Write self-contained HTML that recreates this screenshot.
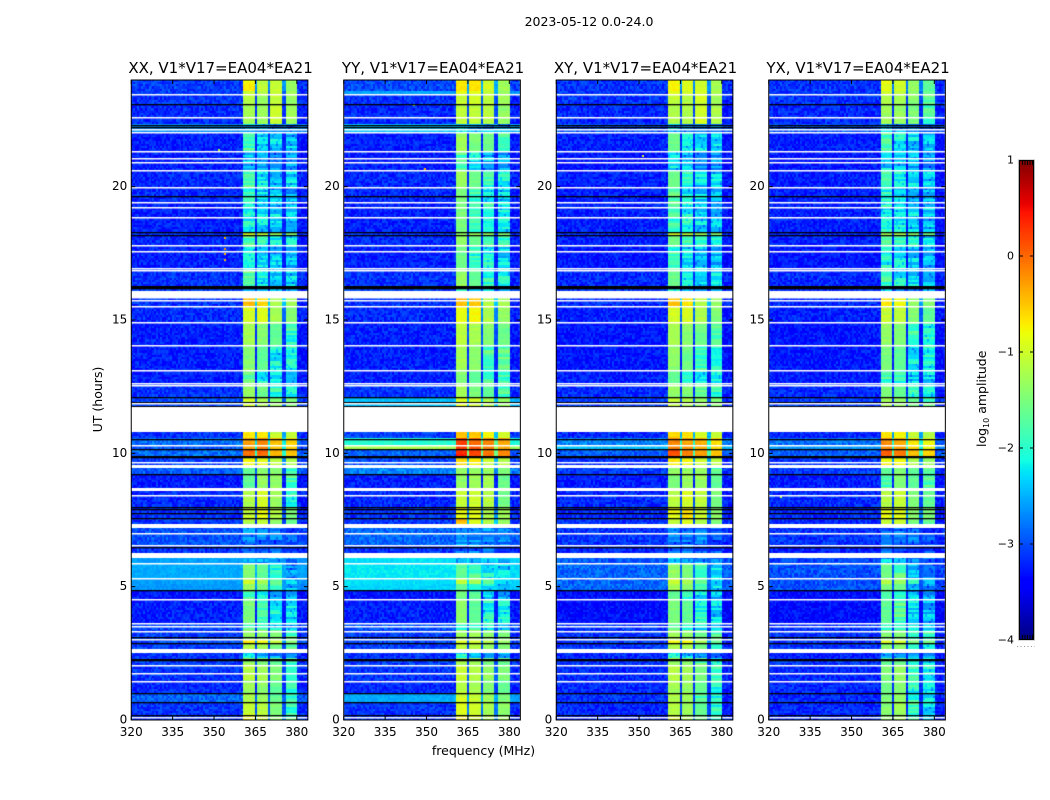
<!DOCTYPE html>
<html lang="en">
<head>
<meta charset="utf-8">
<title>2023-05-12 0.0-24.0</title>
<style>
html,body{margin:0;padding:0;background:#fff}
#figure{position:relative;width:1050px;height:800px;overflow:hidden;background:#fff}
canvas{position:absolute;display:block}
svg{position:absolute;left:0;top:0}
text{font-family:"DejaVu Sans","Liberation Sans",sans-serif;fill:#000}
</style>
</head>
<body>
<div id="figure">
<svg id="overlay" width="1050" height="800" viewBox="0 0 1050 800"></svg>
</div>
<script>
// ---- chart data (estimates) ----
const panelTitles = ['XX, V1*V17=EA04*EA21','YY, V1*V17=EA04*EA21','XY, V1*V17=EA04*EA21','YX, V1*V17=EA04*EA21'];
const freqTicks = [320,335,350,365,380];
const hourTicks = [0,5,10,15,20];
const colorTicks = [1,0,-1,-2,-3,-4];
const windowStart = [360.5,365.7,370.7,375.8];
const windowEnd = [364.8,369.9,374.9,380];
// hour at which each band of similar amplitude starts
const bandStart = [0,0.17,0.69,1,1.45,2.05,2.27,2.68,2.87,3.05,3.35,3.62,4.52,4.86,5.15,5.31,5.87,6.25,6.55,7.34,7.56,7.98,8.69,9.22,9.55,9.87,10.15,10.35,10.53,10.79,11.73,12.11,12.59,13.08,14.05,14.88,15.49,16.08,16.27,16.91,17.77,18.19,18.3,19.39,20,20.6,21.3,22.02,22.33,23.1,23.47,23.62];
// log10 amplitude per band: [background, window 1, window 2, window 3, window 4]
const levelsXX = [[-3,-.8,-1.05,-1.4,-1.7],[-3,-1.05,-1.15,-1.5,-1.75],[-2.75,-1.2,-1.3,-1.6,-1.8],[-3.05,-1.3,-1.4,-1.6,-1.8],[-3,-1.15,-1.25,-1.45,-1.7],[-2.95,-1.35,-1.5,-1.6,-1.75],[-3,-2,-2.1,-2.25,-2.4],[-2.95,-1.2,-1.25,-1.5,-1.65],[-2.9,-.7,-.75,-1.1,-1.5],[-2.95,-1.35,-1.4,-1.5,-1.65],[-2.9,-1.7,-1.8,-1.9,-2.1],[-3.1,-1.5,-1.65,-1.9,-2],[-3.15,-1.7,-1.85,-2.1,-2.2],[-2.5,-1.3,-1.5,-1.75,-2.15],[-2.45,-1,-1.25,-1.6,-2.1],[-2.4,-1.45,-1.6,-1.8,-2.25],[-2.45,-2.1,-2.2,-2.25,-2.3],[-3,-2.45,-2.5,-2.5,-2.6],[-2.85,-2.35,-2.4,-2.4,-2.55],[-3,-1.2,-1.05,-1.35,-1.55],[-3,-1.1,-.85,-1.2,-1.5],[-3.05,-1.2,-.95,-1.3,-1.85],[-3.1,-1.6,-1.35,-1.35,-1.7],[-2.8,-1.6,-1.4,-1.4,-1.7],[-2.95,-.75,-.85,-1.1,-1.2],[-2.7,-.05,0,-.4,-.5],[-2.85,-.3,-.15,-.45,-.6],[-2.7,-.3,-.15,-.45,-.6],[-3,-.65,-.7,-1.05,-1.1],[-3,-3,-3,-3,-3],[-2.9,-1,-1.2,-1.4,-1.5],[-3,-1.35,-1.55,-1.8,-1.9],[-3.1,-1.65,-1.85,-1.9,-2],[-3.1,-1.45,-1.6,-1.9,-1.85],[-3.1,-1.25,-1.45,-1.6,-1.8],[-3.05,-.95,-.9,-1.25,-1.45],[-3,-.45,-.6,-1.2,-1.3],[-2.95,-2,-2.1,-2.1,-2.1],[-3,-1.65,-1.9,-2,-2],[-3.1,-1.85,-2,-2.1,-2.1],[-3.05,-1.7,-1.85,-1.95,-1.9],[-3,-1,-1.1,-1.3,-1.4],[-3.1,-1.9,-1.95,-2,-2.05],[-3.05,-1.75,-2,-2.1,-2.15],[-3.05,-1.7,-1.9,-2.05,-2],[-3.1,-2.05,-2.1,-2.2,-2.25],[-3.1,-1.7,-1.95,-2,-2.1],[-2.55,-2.15,-2.2,-2.3,-2.4],[-3.05,-1.25,-1.3,-1.05,-1.3],[-3,-1.15,-1.3,-1.05,-1.35],[-2.95,-1,-1.2,-1.05,-1.3],[-2.95,-.75,-1.1,-1.05,-1.3]];
const levelsYY = [[-3,-.75,-.95,-1.15,-1.3],[-3,-.9,-1,-1.25,-1.4],[-2.4,-.95,-1.05,-1.3,-1.45],[-3.05,-1.15,-1.25,-1.45,-1.6],[-3,-1,-1.15,-1.35,-1.5],[-2.95,-1.2,-1.3,-1.5,-1.6],[-3,-1.85,-2,-2.1,-2.2],[-2.95,-1.1,-1.15,-1.4,-1.5],[-2.9,-.95,-.95,-1.15,-1.3],[-2.95,-1.3,-1.3,-1.4,-1.5],[-2.85,-1.7,-1.75,-1.85,-1.95],[-3.1,-1.4,-1.6,-1.85,-1.9],[-3.15,-1.55,-1.75,-2,-2.1],[-2.2,-1.6,-1.7,-1.9,-2],[-2.15,-1.15,-1.3,-1.6,-1.85],[-2.1,-1.6,-1.7,-1.9,-2],[-2.15,-2.1,-2.15,-2.15,-2.2],[-3,-2.4,-2.4,-2.45,-2.55],[-2.75,-2.2,-2.3,-2.3,-2.4],[-3,-.45,-.9,-1.15,-1.35],[-3,-.8,-.9,-1.15,-1.3],[-3.05,-1.05,-1,-1.15,-1.55],[-3.1,-1.35,-1.3,-1.25,-1.55],[-2.6,-1.35,-1.35,-1.35,-1.5],[-2.9,-.6,-.7,-1,-1.15],[-2.75,.35,.15,-.1,-.2],[-1.1,.2,.05,-.15,-.3],[-1.9,.2,.05,-.15,-.3],[-2.95,-.55,-.55,-.8,-.95],[-3,-3,-3,-3,-3],[-2.3,-.85,-1,-1.2,-1.3],[-3,-1.25,-1.5,-1.6,-1.7],[-3.1,-1.45,-1.6,-1.75,-1.8],[-3.1,-1.25,-1.4,-1.7,-1.65],[-3.1,-1.1,-1.25,-1.45,-1.55],[-3.05,-.85,-.75,-1.2,-1.35],[-3,-.45,-.55,-1.15,-1.25],[-2.95,-1.85,-1.95,-2,-2],[-3,-1.35,-1.6,-1.8,-1.85],[-3.1,-1.55,-1.8,-1.9,-2],[-3.05,-1.35,-1.55,-1.65,-1.75],[-3,-1.3,-1.3,-1.4,-1.5],[-3.1,-1.5,-1.7,-1.8,-1.95],[-3.05,-1.5,-1.75,-1.9,-2],[-3.05,-1.3,-1.55,-1.8,-1.85],[-3.1,-1.7,-1.95,-2.1,-2.15],[-3.1,-1.3,-1.5,-1.55,-1.65],[-2.3,-2,-2.1,-2.15,-2.2],[-3.05,-1.1,-1.1,-1.15,-1.35],[-3,-1.05,-1,-1.1,-1.3],[-2.45,-.85,-.85,-1.05,-1.3],[-2.9,-.65,-.65,-1,-1.3]];
const levelsXY = [[-3.05,-.95,-1.2,-1.5,-1.8],[-3.05,-1.15,-1.3,-1.6,-1.8],[-3,-1.2,-1.3,-1.65,-1.85],[-3.05,-1.25,-1.35,-1.6,-1.8],[-3.05,-1.15,-1.25,-1.5,-1.75],[-3,-1.3,-1.45,-1.65,-1.85],[-3.05,-1.9,-2.05,-2.2,-2.3],[-3,-1.25,-1.25,-1.55,-1.7],[-2.95,-.75,-.8,-1.2,-1.6],[-3,-1.3,-1.35,-1.55,-1.7],[-3,-1.65,-1.75,-1.9,-2.05],[-3.2,-1.5,-1.6,-1.85,-2],[-3.2,-1.6,-1.75,-2,-2.1],[-2.75,-1.25,-1.4,-1.65,-2.05],[-2.75,-1,-1.25,-1.55,-2],[-2.75,-1.35,-1.5,-1.7,-2.05],[-2.8,-2,-2.15,-2.2,-2.3],[-3.05,-2.4,-2.45,-2.5,-2.6],[-3,-2.3,-2.4,-2.4,-2.55],[-3,-1.1,-.9,-1.15,-1.5],[-3.05,-.85,-.7,-1.05,-1.4],[-3.05,-1.15,-.95,-1.1,-1.5],[-3.1,-1.5,-1.3,-1.3,-1.6],[-2.95,-1.35,-1.35,-1.35,-1.65],[-3,-.7,-.8,-1,-1.1],[-2.8,.1,-.1,-.3,-.5],[-2.3,-.15,-.3,-.4,-.65],[-2.6,-.15,-.3,-.4,-.65],[-3.05,-.6,-.65,-.9,-1.05],[-3,-3,-3,-3,-3],[-2.95,-1.1,-1.2,-1.35,-1.45],[-3.05,-1.35,-1.45,-1.7,-1.75],[-3.1,-1.6,-1.75,-1.85,-1.9],[-3.15,-1.4,-1.55,-1.75,-1.8],[-3.15,-1.25,-1.4,-1.55,-1.7],[-3.1,-.95,-.95,-1.2,-1.45],[-3.05,-.5,-.65,-1.15,-1.35],[-3,-1.95,-2.05,-2.1,-2.1],[-3.05,-1.55,-1.85,-1.95,-2],[-3.15,-1.75,-1.95,-2.05,-2.1],[-3.1,-1.55,-1.75,-1.9,-1.95],[-3.05,-1,-1.1,-1.25,-1.4],[-3.1,-1.75,-1.85,-2,-2.05],[-3.1,-1.65,-1.95,-2.05,-2.1],[-3.1,-1.55,-1.8,-2,-2],[-3.15,-1.95,-2.05,-2.2,-2.2],[-3.1,-1.55,-1.85,-1.95,-2.05],[-2.85,-2.05,-2.15,-2.2,-2.35],[-3.05,-1.2,-1.2,-1,-1.2],[-3,-1.05,-1.15,-1,-1.25],[-3,-.9,-1,-1,-1.25],[-3,-.75,-.9,-1,-1.25]];
const levelsYX = [[-3.05,-1.35,-1.2,-1.7,-1.9],[-3.05,-1.45,-1.3,-1.75,-1.95],[-3.05,-1.5,-1.35,-1.8,-1.95],[-3.05,-1.55,-1.45,-1.85,-1.95],[-3.05,-1.45,-1.35,-1.7,-1.85],[-3,-1.6,-1.55,-1.8,-1.9],[-3.1,-2.1,-2.2,-2.3,-2.35],[-3,-1.45,-1.4,-1.7,-1.85],[-3,-1,-1,-1.45,-1.7],[-3,-1.45,-1.45,-1.7,-1.8],[-3,-1.75,-1.8,-2,-2.1],[-3.2,-1.6,-1.65,-2,-2.1],[-3.2,-1.7,-1.8,-2.1,-2.2],[-2.85,-1.5,-1.55,-2,-2.25],[-2.85,-1.2,-1.35,-1.9,-2.15],[-2.85,-1.55,-1.65,-2.05,-2.25],[-2.9,-2.1,-2.2,-2.3,-2.35],[-3.1,-2.45,-2.5,-2.55,-2.6],[-3,-2.4,-2.4,-2.5,-2.6],[-3.05,-1.05,-1.05,-1.5,-1.6],[-3.05,-.85,-.9,-1.4,-1.5],[-3.05,-1.15,-1.05,-1.45,-1.6],[-3.1,-1.65,-1.45,-1.6,-1.7],[-2.95,-1.6,-1.45,-1.6,-1.7],[-3,-.75,-.8,-1.2,-1.3],[-2.8,.05,-.1,-.5,-.6],[-2.5,-.2,-.35,-.65,-.8],[-2.7,-.2,-.35,-.65,-.8],[-3.05,-.7,-.8,-1.1,-1.2],[-3,-3,-3,-3,-3],[-2.95,-1.25,-1.35,-1.55,-1.65],[-3.05,-1.5,-1.6,-1.85,-1.9],[-3.1,-1.7,-1.8,-2,-2],[-3.15,-1.5,-1.6,-1.95,-1.9],[-3.15,-1.35,-1.45,-1.75,-1.85],[-3.1,-1.05,-1.1,-1.45,-1.6],[-3.05,-.7,-.8,-1.4,-1.45],[-3,-2.05,-2.1,-2.15,-2.15],[-3.05,-1.75,-1.9,-2,-2.05],[-3.15,-1.85,-1.95,-2.05,-2.1],[-3.1,-1.65,-1.8,-1.9,-2],[-3.05,-1.2,-1.2,-1.4,-1.5],[-3.1,-1.85,-1.9,-2,-2.1],[-3.1,-1.8,-1.95,-2.05,-2.15],[-3.1,-1.7,-1.85,-2,-2.05],[-3.15,-2,-2.05,-2.15,-2.25],[-3.1,-1.7,-1.9,-2,-2.05],[-2.85,-2.1,-2.15,-2.25,-2.35],[-3.05,-1.3,-1.35,-1.5,-1.7],[-3,-1.2,-1.25,-1.45,-1.65],[-3,-1,-1.1,-1.4,-1.6],[-3,-.85,-1,-1.35,-1.6]];
const panelLevels = [levelsXX,levelsYY,levelsXY,levelsYX];
// flagged time ranges, hours: white = no data, black = zero amplitude
const whiteStart = [.06,1.41,1.72,2.02,2.53,2.99,3.29,3.48,3.59,4.49,5.28,5.84,6.06,6.52,6.97,7.19,8.36,8.58,9.44,9.6,10.27,10.79,11.81,12.49,12.56,13.05,14.02,14.85,15.46,15.68,15.8,15.86,16.81,16.88,17.52,17.74,18.8,19.17,19.36,19.92,20.56,20.86,21.01,21.27,21.99,22.1,22.55,23.41];
const whiteEnd = [.12,1.48,1.78,2.08,2.68,3.05,3.35,3.54,3.65,4.55,5.34,5.9,6.25,6.58,7.03,7.34,8.42,8.69,9.55,9.66,10.33,11.73,11.87,12.55,12.62,13.11,14.08,14.91,15.52,15.74,15.86,16.08,16.87,16.94,17.58,17.8,18.86,19.23,19.42,19.98,20.62,20.92,21.07,21.33,22.05,22.16,22.61,23.47];
const blackHours = [.17,.69,1,2.24,2.3,2.87,3.1,4.86,6.48,7.56,7.75,7.9,7.98,9.22,9.85,9.89,10.15,10.53,11.78,11.92,12.11,16.2,16.25,16.29,18.19,18.3,19.65,22.24,22.33,23.1];
// isolated bright samples: panel index, MHz, hour, log10 amplitude
const speckPanel = [0,0,0,0,0,1,1,2,3];
const speckFreq = [353.6,353.6,353.6,353.6,351.5,345,349,351,324];
const speckHour = [17.3,17.5,17.7,18.1,21.4,23.1,20.7,21.2,8.4];
const speckLevel = [-.4,-.4,-.2,-.4,-1.2,-1.2,-.4,-1,-1.2];
// visual grain only (stands in for per-cell noise that cannot be read individually)
const grainTexture = [.4,-.7,.1,.9,-.3,-.9,.6,.2,-.5,1,-.1,-.6,.3,.8,-.8,0,.5,-.4,-1,.7,.2,-.2,.9,-.6,.1,-.9,.4,.6,-.3,-.7,1,0,-.5,.3,-.8,.7,-.1,.5,-.4,.9,-.6,.2,-1,.6,-.2,.1,.8,-.7,.4,-.3,0,-.9,.7,.3,-.5,.5,-.1,1,-.8,.2,-.4,.6,-.6,.1,.9,-.2,-.7];

// ---- layout and axis functions ----
const panelLeft = [131.25,343.75,556.25,768.75];
const panelWidth = 176.6, plotTop = 80, plotBottom = 720;
const freqMin = 320, freqMax = 384, hourMax = 24, colorMin = -4, colorMax = 1;
const cbLeft = 1019, cbRight = 1034, cbTop = 160, cbBottom = 640;
const xScale = (p,f) => panelLeft[p] + (f-freqMin)/(freqMax-freqMin)*panelWidth;
const yScale = h => plotBottom - h/hourMax*(plotBottom-plotTop);
const cbScale = v => cbBottom - (v-colorMin)/(colorMax-colorMin)*(cbBottom-cbTop);

function lerpStops(stops,t){
  for(let i=1;i<stops.length;i++){
    if(t<=stops[i][0]){
      const a=stops[i-1],b=stops[i];
      return a[1]+(b[1]-a[1])*(t-a[0])/(b[0]-a[0]);
    }
  }
  return stops[stops.length-1][1];
}
const jetR=[[0,0],[.35,0],[.66,1],[.89,1],[1,.5]];
const jetG=[[0,0],[.125,0],[.375,1],[.64,1],[.91,0],[1,0]];
const jetB=[[0,.5],[.11,1],[.34,1],[.65,0],[1,0]];
function jetColor(level){
  const t=Math.min(1,Math.max(0,(level-colorMin)/(colorMax-colorMin)));
  return 'rgb('+Math.round(255*lerpStops(jetR,t))+','+Math.round(255*lerpStops(jetG,t))+','+Math.round(255*lerpStops(jetB,t))+')';
}
function grainAt(c,r){
  return grainTexture[(c*c*3+r*r*5+c*r+c*11+r*7)%grainTexture.length];
}
function bandAt(h){
  let i=0;
  while(i+1<bandStart.length && bandStart[i+1]<=h) i++;
  return i;
}
// my first colour reading ran bright at the low end; corrected here for both kinds of cell
const bgBias=-.13;
function windowLevel(l){
  return l<-1.5 ? l+Math.max(-.4,(l+1.5)*.6) : l;
}
function cellLevel(row,f,c,r){
  const bg=row[0]+bgBias;
  const noise=grainAt(c,r);
  const bgAmp=bg<-2.7?.22:.09;
  if(f>=windowEnd[3]) return bg-.06+bgAmp*noise;
  if(f<windowStart[0]) return bg+bgAmp*noise;
  for(let w=0;w<4;w++){
    if(f>=windowStart[w]&&f<windowEnd[w]){
      const lvl=windowLevel(row[w+1]);
      const strip=grainTexture[(r*r*3+r*5+w*13)%grainTexture.length];
      const amp=lvl<-1.7?.3:.06;
      const speck=grainTexture[(c*5+r*r)%grainTexture.length];
      const dip=speck>.85&&lvl<-2?-.35:0;
      return lvl+amp*strip+.06*noise+dip;
    }
  }
  return Math.max(bg,windowLevel(row[1])-1.9)+.1*noise;
}

const svgNS='http://www.w3.org/2000/svg';
const overlay=document.getElementById('overlay');
const figure=document.getElementById('figure');
function addLine(x1,y1,x2,y2,name,color){
  const el=document.createElementNS(svgNS,'line');
  el.setAttribute('x1',x1);
  el.setAttribute('y1',y1);
  el.setAttribute('x2',x2);
  el.setAttribute('y2',y2);
  el.setAttribute('stroke',color||'#000');
  el.setAttribute('stroke-width','1');
  
  
  overlay.appendChild(el);
  return el;
}
function addText(x,y,str,size,anchor,name){
  const el=document.createElementNS(svgNS,'text');
  el.setAttribute('x',x);
  el.setAttribute('y',y);
  el.setAttribute('font-size',size);
  el.setAttribute('text-anchor',anchor);
  el.textContent=str;
  
  
  overlay.appendChild(el);
  return el;
}
function addFrame(x,y,w,h,stroke,name){
  const el=document.createElementNS(svgNS,'rect');
  el.setAttribute('x',x);
  el.setAttribute('y',y);
  el.setAttribute('width',w);
  el.setAttribute('height',h);
  el.setAttribute('fill','none');
  el.setAttribute('stroke',stroke);
  el.setAttribute('stroke-width','1');
  
  
  overlay.appendChild(el);
  return el;
}

function drawPanel(p){
  const left=Math.floor(panelLeft[p]);
  const canvas=document.createElement('canvas');
  canvas.width=179;
  canvas.height=641;
  canvas.style.left=left+'px';
  canvas.style.top=plotTop+'px';
  
  
  figure.insertBefore(canvas,overlay);
  const ctx=canvas.getContext('2d');
  ctx.translate(-left,-plotTop);
  const levels=panelLevels[p];
  const freqStep=.7, hourStep=.0825;
  const cols=Math.ceil((freqMax-freqMin)/freqStep), rows=Math.ceil(hourMax/hourStep);
  for(let r=0;r<rows;r++){
    const h=(r+.5)*hourStep;
    const row=levels[bandAt(h)];
    const y0=Math.round(yScale((r+1)*hourStep));
    const y1=Math.round(yScale(r*hourStep));
    for(let c=0;c<cols;c++){
      const f=freqMin+(c+.5)*freqStep;
      const x0=Math.round(xScale(p,freqMin+c*freqStep));
      const x1=Math.min(Math.round(xScale(p,freqMin+(c+1)*freqStep)),Math.round(panelLeft[p]+panelWidth));
      if(x1<=x0) continue;
      ctx.fillStyle=jetColor(cellLevel(row,f,c+p*17,r+p*29));
      ctx.fillRect(x0,y0,x1-x0,y1-y0);
    }
  }
  speckPanel.forEach((sp,i)=>{
    if(sp!==p) return;
    ctx.fillStyle=jetColor(speckLevel[i]);
    ctx.fillRect(Math.round(xScale(p,speckFreq[i])),Math.round(yScale(speckHour[i])),2,2);
  });
  const xa=Math.round(panelLeft[p]), xb=Math.round(panelLeft[p]+panelWidth);
  ctx.fillStyle='#000';
  blackHours.forEach(bh=>{
    ctx.fillRect(xa,Math.round(yScale(bh)),xb-xa,1.3);
  });
  ctx.fillStyle='#fff';
  whiteStart.forEach((ws,i)=>{
    const ya=yScale(whiteEnd[i]), yb=yScale(ws);
    const tall=yb-ya;
    const yTop=Math.round(ya);
    ctx.fillRect(xa,yTop,xb-xa,tall<2?1.5:Math.round(tall));
  });
}

function drawAxes(p){
  const key=panelTitles[p].slice(0,2).toLowerCase();
  const x0=panelLeft[p], x1=x0+panelWidth;
  addFrame(x0,plotTop,panelWidth,plotBottom-plotTop,'#000','frame-'+key);
  addText(x0+panelWidth/2+1,73,panelTitles[p],15,'middle','title-'+key);
  freqTicks.forEach(f=>{
    const x=xScale(p,f);
    addLine(x,plotBottom,x,plotBottom-4,'x-tick-bottom-'+key+'-'+f);
    addLine(x,plotTop,x,plotTop+4,'x-tick-top-'+key+'-'+f);
    addText(x,736,String(f),12,'middle','x-tick-label-'+key+'-'+f);
  });
  hourTicks.forEach(h=>{
    const y=yScale(h);
    addLine(x0,y,x0+4,y,'y-tick-left-'+key+'-'+h);
    addLine(x1,y,x1-4,y,'y-tick-right-'+key+'-'+h);
    addText(x0-4,y+3.5,String(h),12,'end','y-tick-label-'+key+'-'+h);
  });
}

function drawColorbar(){
  const canvas=document.createElement('canvas');
  canvas.width=cbRight-cbLeft;
  canvas.height=cbBottom-cbTop;
  canvas.style.left=cbLeft+'px';
  canvas.style.top=cbTop+'px';
  
  
  figure.insertBefore(canvas,overlay);
  const ctx=canvas.getContext('2d');
  for(let y=cbTop;y<cbBottom;y++){
    const v=colorMax-(y+.5-cbTop)/(cbBottom-cbTop)*(colorMax-colorMin);
    ctx.fillStyle=jetColor(v);
    ctx.fillRect(0,y-cbTop,cbRight-cbLeft,1);
  }
  addFrame(cbLeft-.5,cbTop,cbRight-cbLeft+1,cbBottom-cbTop,'#b5b5b5','colorbar-outer-frame');
  addFrame(cbLeft+.5,cbTop+.5,cbRight-cbLeft-1,cbBottom-cbTop-1,'#000','colorbar-inner-frame');
  colorTicks.forEach(v=>{
    const y=cbScale(v);
    if(v>colorMin&&v<colorMax){
      addLine(cbLeft,y,cbLeft+4,y,'colorbar-tick-left-'+v);
      addLine(cbRight,y,cbRight-4,y,'colorbar-tick-right-'+v);
    }
    const label=v<0?'\u2212'+Math.abs(v):String(v);
    const t=addText(1014,y+3.5,label,12,'end','colorbar-tick-label-'+v);
    t.setAttribute('font-size','11');
  });
  [1022.5,1025,1027.5,1030,1032.5].forEach((x,i)=>{
    addLine(x,cbTop,x,cbTop+5,'colorbar-minor-tick-top-'+i);
    addLine(x,cbBottom,x,cbBottom-5,'colorbar-minor-tick-bottom-'+i);
  });
  const dots=addLine(1017,646.5,1035,646.5,'colorbar-dotted-rule','#999');
  dots.setAttribute('stroke-dasharray','1 2.5');
  const lbl=document.createElementNS(svgNS,'text');
  lbl.setAttribute('transform','translate(986,447) rotate(-90)');
  lbl.setAttribute('font-size','12.5');
  
  
  lbl.appendChild(document.createTextNode('log'));
  const sub=document.createElementNS(svgNS,'tspan');
  sub.setAttribute('font-size','8');
  sub.setAttribute('dy','3');
  sub.textContent='10';
  lbl.appendChild(sub);
  const rest=document.createElementNS(svgNS,'tspan');
  rest.setAttribute('dy','-3');
  rest.textContent=' amplitude';
  lbl.appendChild(rest);
  overlay.appendChild(lbl);
}

panelTitles.forEach((t,p)=>{drawPanel(p);});
panelTitles.forEach((t,p)=>{drawAxes(p);});
drawColorbar();
addText(589,26,'2023-05-12 0.0-24.0',12.5,'middle','figure-title');
addText(483.5,755,'frequency (MHz)',12.5,'middle','x-axis-title');
const yTitle=addText(0,0,'UT (hours)',12.5,'middle','y-axis-title');
yTitle.setAttribute('transform','translate(102,399.5) rotate(-90)');
</script>
</body>
</html>
